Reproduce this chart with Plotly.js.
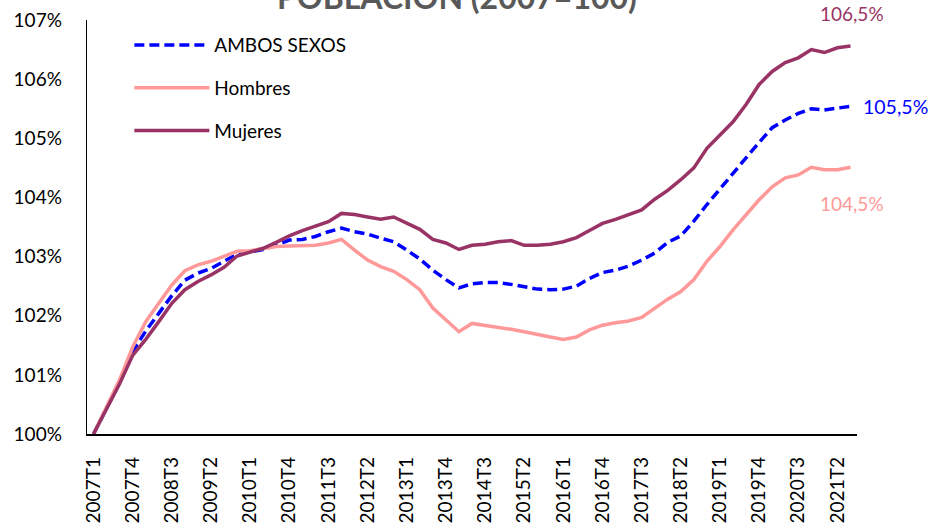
<!DOCTYPE html>
<html>
<head>
<meta charset="utf-8">
<script src="https://cdn.plot.ly/plotly-3.0.1.min.js"></script>
<style>html,body{margin:0;padding:0;background:#fff;}#chart{width:937px;height:523px;}</style>
</head>
<body>
<div id="chart"></div>
<script>
// Quarter categories 2007T1 .. 2021T3
var years = [2007,2008,2009,2010,2011,2012,2013,2014,2015,2016,2017,2018,2019,2020,2021];
var quarters = ['T1','T2','T3','T4'];
var categories = [];
years.forEach(function(y){ quarters.forEach(function(q){ categories.push(y + q); }); });
categories = categories.slice(0, 59);

var ambos = [100.00,100.43,100.88,101.40,101.74,102.04,102.34,102.60,102.72,102.80,
  102.92,103.04,103.08,103.12,103.19,103.28,103.29,103.34,103.42,103.48,
  103.42,103.38,103.31,103.25,103.11,102.96,102.77,102.61,102.47,102.54,
  102.56,102.56,102.53,102.49,102.45,102.44,102.45,102.50,102.63,102.73,
  102.77,102.84,102.94,103.06,103.24,103.35,103.60,103.88,104.15,104.40,
  104.67,104.93,105.18,105.31,105.42,105.50,105.48,105.51,105.54];

var hombres = [100.00,100.45,100.92,101.47,101.90,102.21,102.52,102.76,102.86,102.92,
  103.01,103.09,103.10,103.13,103.17,103.18,103.19,103.19,103.23,103.29,
  103.11,102.94,102.83,102.75,102.61,102.44,102.13,101.93,101.73,101.87,
  101.84,101.80,101.77,101.73,101.68,101.64,101.60,101.64,101.76,101.84,
  101.88,101.91,101.97,102.13,102.28,102.41,102.61,102.92,103.17,103.45,
  103.71,103.96,104.18,104.33,104.38,104.51,104.47,104.47,104.51];

var mujeres = [100.00,100.41,100.85,101.33,101.60,101.90,102.21,102.44,102.58,102.69,
  102.82,103.01,103.07,103.14,103.24,103.35,103.44,103.51,103.59,103.73,
  103.71,103.67,103.63,103.67,103.57,103.46,103.29,103.23,103.12,103.19,
  103.21,103.25,103.27,103.19,103.19,103.21,103.25,103.32,103.44,103.56,
  103.63,103.71,103.79,103.97,104.12,104.30,104.50,104.83,105.06,105.28,
  105.57,105.91,106.13,106.28,106.36,106.50,106.45,106.53,106.56];

var seriesNames = ['AMBOS SEXOS','Hombres','Mujeres'];
var endLabels = ['105,5%','104,5%','106,5%'];
var titleText = 'POBLACIÓN (2007=100)';
var tickLabels = categories.filter(function(c,i){ return i % 3 === 0; });

var FONT = 'Lato, "Liberation Sans", sans-serif';
var cBlue = '#0000FF', cPink = '#FF9999', cPurple = '#993366';

var traces = [
  {x: categories, y: ambos, name: seriesNames[0], type:'scatter', mode:'lines', legendgroup:'a',
   line:{color:cBlue, width:3.5, dash:'10px,5px'}},
  {x: categories, y: hombres, name: seriesNames[1], type:'scatter', mode:'lines', legendgroup:'h',
   line:{color:cPink, width:3.5}},
  {x: categories, y: mujeres, name: seriesNames[2], type:'scatter', mode:'lines', legendgroup:'m',
   line:{color:cPurple, width:3.5}}
];

var last = categories.length - 1;
var layout = {
  width: 937, height: 523,
  margin: {l:87, r:80, t:20, b:89, pad:0},
  paper_bgcolor:'#fff', plot_bgcolor:'#fff',
  font: {family: FONT, size: 20, color:'#000'},
  showlegend: true,
  legend: {x:0.055, y:0.985, xanchor:'left', yanchor:'top', bgcolor:'rgba(0,0,0,0)',
           font:{family: FONT, size:19, color:'#000'}, tracegroupgap:15, traceorder:'grouped',
           itemwidth:75},
  xaxis: {type:'category', range:[-0.5, categories.length-0.5], showline:true, linecolor:'#000', linewidth:1.5,
          showgrid:false, zeroline:false, ticks:'', tickangle:-90, tickvals: tickLabels, ticktext: tickLabels,
          tickfont:{family: FONT, size:19, color:'#000'}, ticklabelstandoff: 14, fixedrange:true},
  yaxis: {range:[100,107], dtick:1, tick0:100, ticksuffix:'%', showline:true, linecolor:'#000', linewidth:1.3,
          showgrid:false, zeroline:false, ticks:'', tickfont:{family: FONT, size:19, color:'#000'},
          ticklabelstandoff: 20, fixedrange:true},
  annotations: [
    {xref:'paper', yref:'paper', x:0.48, y:1, xanchor:'center', yanchor:'middle', yshift:24,
     text:'<b>' + titleText + '</b>', showarrow:false, font:{family: FONT, size:32, color:'#595959'}},
    {x: categories[last], y: mujeres[last], xref:'x', yref:'y', text: endLabels[2], showarrow:false,
     yshift:33, xshift:2, font:{family: FONT, size:19, color:cPurple}},
    {x: categories[last], y: ambos[last], xref:'x', yref:'y', text: endLabels[0], showarrow:false,
     xanchor:'left', xshift:11, yshift:0, font:{family: FONT, size:19.5, color:cBlue}},
    {x: categories[last], y: hombres[last], xref:'x', yref:'y', text: endLabels[1], showarrow:false,
     yshift:-36, xshift:2, font:{family: FONT, size:19, color:cPink}}
  ]
};

Plotly.newPlot('chart', traces, layout, {displayModeBar:false, staticPlot:true});
</script>
</body>
</html>
